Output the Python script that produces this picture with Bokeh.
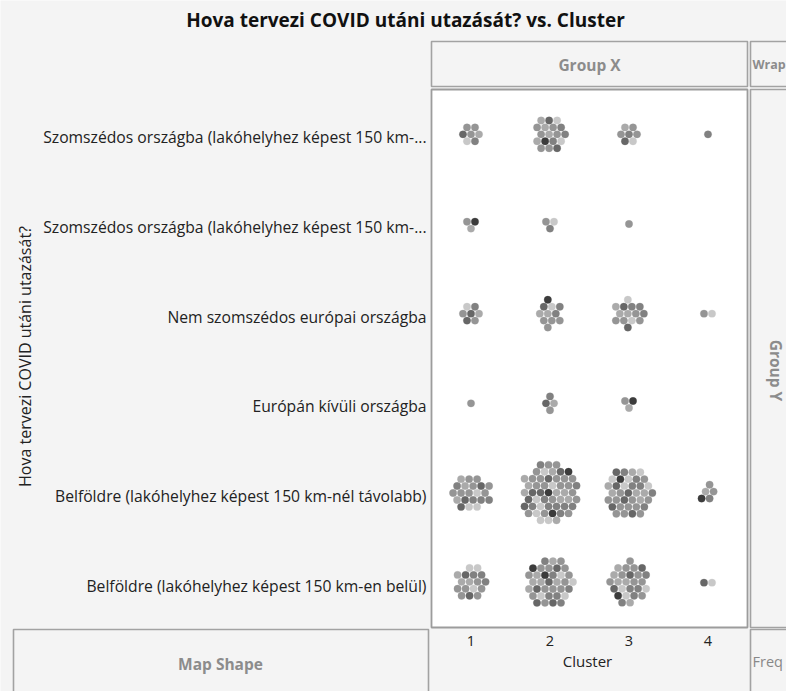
import numpy as np
from bokeh.plotting import figure
from bokeh.models import Label, ColumnDataSource
from bokeh.core.properties import value
from bokeh.embed import file_html
from bokeh.resources import INLINE

# ---------------- data ----------------
title_text = "Hova tervezi COVID utáni utazását? vs. Cluster"
y_title = "Hova tervezi COVID utáni utazását?"
x_title = "Cluster"

# categories top -> bottom
categories = [
    "Szomszédos országba (lakóhelyhez képest 150 km-nél távolabb)",
    "Szomszédos országba (lakóhelyhez képest 150 km-en belül)",
    "Nem szomszédos európai országba",
    "Európán kívüli országba",
    "Belföldre (lakóhelyhez képest 150 km-nél távolabb)",
    "Belföldre (lakóhelyhez képest 150 km-en belül)",
]
category_labels = [
    "Szomszédos országba (lakóhelyhez képest 150 km-...",
    "Szomszédos országba (lakóhelyhez képest 150 km-...",
    "Nem szomszédos európai országba",
    "Európán kívüli országba",
    "Belföldre (lakóhelyhez képest 150 km-nél távolabb)",
    "Belföldre (lakóhelyhez képest 150 km-en belül)",
]
clusters = [1, 2, 3, 4]
cluster_tick_labels = ["1", "2", "3", "4"]
count_cluster1 = [7, 3, 7, 1, 21, 17]
count_cluster2 = [18, 3, 11, 4, 52, 35]
count_cluster3 = [7, 1, 14, 3, 36, 26]
count_cluster4 = [1, 0, 2, 0, 5, 2]
counts = [count_cluster1, count_cluster2, count_cluster3, count_cluster4]

shade_palette = ["#c8c8c8", "#aaaaaa", "#959595", "#818181", "#676767", "#3c3c3c"]
shade_sequence = [2, 1, 3, 2, 0, 2, 4, 1, 2, 3, 2, 5, 1, 2, 0, 3, 2, 4, 1, 2, 3, 4, 0]

# ---------------- layout constants (pixels) ----------------
W, H = 786, 691
FR_L, FR_R, FR_T, FR_B = 431, 747, 89, 627
NCAT = len(categories)
PX_X = (FR_R - FR_L) / len(clusters)
PX_Y = (FR_B - FR_T) / NCAT
SPACING = 8.0
BG = "#f4f4f4"
BOX_LINE = "#a2a2a2"
FONT = "Open Sans"


def xd(X):
    return 0.5 + (X - FR_L) / PX_X


def yd(Y):
    return (NCAT - 0.5) - (Y - FR_T) / PX_Y


def hex_offsets(n):
    """Hexagonal packing of n points around a centre (JMP-style point packing)."""
    if n == 0:
        return np.zeros((0, 2))
    cand = []
    R = 7
    for r in range(-R, R + 1):
        for q in range(-R, R + 1):
            x = q + r / 2.0
            y = r * np.sqrt(3) / 2.0
            th = round(float(np.degrees(np.arctan2(y, x))), 3)
            cand.append((round(float(np.hypot(x, y)), 4), abs(th), th, x, y))
    cand.sort()
    pts = np.array([[c[3], c[4]] for c in cand[:n]])
    return pts - pts.mean(axis=0)


xs, ys, cols = [], [], []
k = 0
for ri in range(NCAT):
    yv = NCAT - 1 - ri
    for ci, cl in enumerate(clusters):
        for ox, oy in hex_offsets(counts[ci][ri]):
            xs.append(cl + ox * SPACING / PX_X)
            ys.append(yv + oy * SPACING / PX_Y)
            cols.append(shade_palette[shade_sequence[k % len(shade_sequence)]])
            k += 1

src = ColumnDataSource(dict(x=xs, y=ys, c=cols))

p = figure(width=W, height=H, x_range=(xd(0), xd(W)), y_range=(yd(H), yd(0)),
           output_backend="svg", toolbar_location=None,
           x_axis_location=None, y_axis_location=None,
           min_border=0, background_fill_color=BG, border_fill_color=BG,
           outline_line_color=None)
p.xgrid.visible = False
p.ygrid.visible = False

# decorative boxes (Group X, Wrap, Group Y, Map Shape, Freq)
boxes_px = [(431, 41, 747, 86), (750, 41, 800, 86), (750, 89, 800, 627),
            (13, 629, 428, 720), (750, 629, 800, 720)]
p.quad(left=[xd(b[0]) for b in boxes_px], right=[xd(b[2]) for b in boxes_px],
       top=[yd(b[1]) for b in boxes_px], bottom=[yd(b[3]) for b in boxes_px],
       fill_color=BG, line_color=BOX_LINE, line_width=1.6)

# white plot area
p.quad(left=[0.5], right=[len(clusters) + 0.5], bottom=[-0.5], top=[NCAT - 0.5],
       fill_color="white", line_color="#9c9c9c", line_width=1.8)

p.scatter("x", "y", source=src, size=7.4, fill_color="c", line_color="c",
          line_alpha=0.35, line_width=0.8)

# y category labels
p.text(x=[xd(426)] * NCAT, y=[NCAT - 1 - i - 3 / PX_Y for i in range(NCAT)],
       text=category_labels, text_align="right", text_baseline="middle",
       text_font=value(FONT), text_font_size="15.7px", text_color="#222222")

# x tick labels
p.text(x=clusters, y=[yd(640)] * len(clusters), text=cluster_tick_labels,
       text_align="center", text_baseline="middle",
       text_font=value(FONT), text_font_size="14.5px", text_color="#222222")


def lab(text, X, Y, size="15.5px", color="#222222", style="normal", angle=0.0,
        align="center"):
    return Label(x=xd(X), y=yd(Y), text=text,
                 text_align=align, text_baseline="middle", angle=angle,
                 text_font=FONT, text_font_size=size, text_color=color,
                 text_font_style=style)


p.add_layout(lab(x_title, 587, 660, size="15px"))
p.add_layout(lab(title_text, 405, 19, size="19px", color="#111111", style="bold"))
p.add_layout(lab("Group X", 589, 64, color="#8c8c8c", style="bold"))
p.add_layout(lab("Wrap", 752, 64, color="#8c8c8c", style="bold", align="left", size="12.5px"))
p.add_layout(lab("Group Y", 775, 370, color="#8c8c8c", style="bold", angle=-np.pi / 2))
p.add_layout(lab("Map Shape", 220, 663, color="#8c8c8c", style="bold"))
p.add_layout(lab("Freq", 752, 661, color="#888888", align="left", size="14.5px"))
p.add_layout(lab(y_title, 24, 356, size="16px", angle=np.pi / 2))

open("out.html", "w").write(file_html(p, INLINE))
